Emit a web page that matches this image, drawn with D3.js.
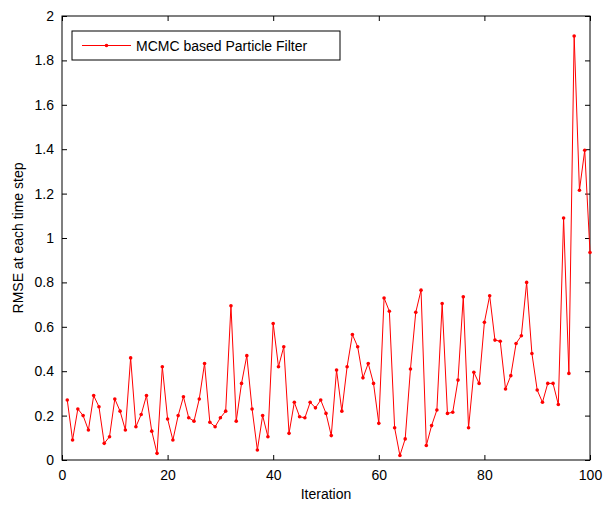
<!DOCTYPE html>
<html>
<head>
<meta charset="utf-8">
<script src="https://cdn.jsdelivr.net/npm/d3@7"></script>
<style>
  body { margin: 0; background: #fff; }
  text { font-family: "Liberation Sans", Arial, sans-serif; }
</style>
</head>
<body>
<div id="chart"></div>
<script>
// RMSE per iteration
const rmse = [
  0.27, 0.09, 0.23, 0.20, 0.135, 0.29, 0.24, 0.075, 0.105, 0.275,
  0.22, 0.135, 0.46, 0.15, 0.205, 0.29, 0.13, 0.03, 0.42, 0.185,
  0.09, 0.20, 0.285, 0.19, 0.175, 0.275, 0.435, 0.17, 0.15, 0.19,
  0.22, 0.695, 0.175, 0.345, 0.47, 0.23, 0.045, 0.20, 0.105, 0.615,
  0.42, 0.51, 0.12, 0.26, 0.195, 0.19, 0.26, 0.235, 0.27, 0.21,
  0.11, 0.405, 0.22, 0.42, 0.565, 0.51, 0.37, 0.435, 0.345, 0.165,
  0.73, 0.67, 0.145, 0.02, 0.095, 0.41, 0.665, 0.765, 0.065, 0.155,
  0.225, 0.705, 0.21, 0.215, 0.36, 0.735, 0.145, 0.395, 0.345, 0.62,
  0.74, 0.54, 0.535, 0.32, 0.38, 0.525, 0.56, 0.80, 0.48, 0.315,
  0.26, 0.345, 0.345, 0.25, 1.09, 0.39, 1.91, 1.215, 1.395, 0.935
];
const iterations = rmse.map((d, i) => i + 1);
const xTicks = [0, 20, 40, 60, 80, 100];
const yTicks = [0, 0.2, 0.4, 0.6, 0.8, 1, 1.2, 1.4, 1.6, 1.8, 2];
const seriesName = "MCMC based Particle Filter";

const size = { width: 603, height: 506 };
const margin = { left: 62, right: 13, top: 16, bottom: 46 };
const w = size.width - margin.left - margin.right;
const h = size.height - margin.top - margin.bottom;

const svg = d3.select("#chart")
  .append("svg")
  .attr("width", size.width)
  .attr("height", size.height);

const g = svg.append("g")
  .attr("transform", `translate(${margin.left},${margin.top})`);

const x = d3.scaleLinear().domain([0, 100]).range([0, w]);
const y = d3.scaleLinear().domain([0, 2]).range([h, 0]);

// axes, ticks pointing inward
const fmt = (d) => String(+d.toFixed(1));
const axisStyle = (sel) => {
  sel.select(".domain").remove();
  sel.selectAll("line").attr("stroke", "#000");
  sel.selectAll("text").attr("font-size", 14).attr("fill", "#000");
};

g.append("g")
  .attr("transform", `translate(0,${h})`)
  .call(d3.axisBottom(x).tickValues(xTicks).tickSize(-5).tickPadding(10).tickFormat(fmt))
  .call(axisStyle);
g.append("g")
  .call(d3.axisTop(x).tickValues(xTicks).tickSize(-5).tickFormat(""))
  .call(axisStyle);
g.append("g")
  .call(d3.axisLeft(y).tickValues(yTicks).tickSize(-5).tickPadding(8).tickFormat(fmt))
  .call(axisStyle);
g.append("g")
  .attr("transform", `translate(${w},0)`)
  .call(d3.axisRight(y).tickValues(yTicks).tickSize(-5).tickFormat(""))
  .call(axisStyle);

// box
g.append("rect")
  .attr("width", w)
  .attr("height", h)
  .attr("fill", "none")
  .attr("stroke", "#000")
  .attr("stroke-width", 1);

// line + markers
const line = d3.line()
  .x((d, i) => x(iterations[i]))
  .y((d) => y(d));

g.append("path")
  .datum(rmse)
  .attr("d", line)
  .attr("fill", "none")
  .attr("stroke", "#ff0000")
  .attr("stroke-width", 1);

g.selectAll("circle.pt")
  .data(rmse)
  .join("circle")
  .attr("class", "pt")
  .attr("cx", (d, i) => x(iterations[i]))
  .attr("cy", (d) => y(d))
  .attr("r", 1.8)
  .attr("fill", "#ff0000");

// axis labels
svg.append("text")
  .attr("x", margin.left + w / 2)
  .attr("y", 499)
  .attr("text-anchor", "middle")
  .attr("font-size", 14)
  .text("Iteration");

svg.append("text")
  .attr("transform", `translate(23,${margin.top + h / 2}) rotate(-90)`)
  .attr("text-anchor", "middle")
  .attr("font-size", 14)
  .text("RMSE at each time step");

// legend
const legend = g.append("g").attr("transform", "translate(10,15)");
legend.append("rect")
  .attr("width", 268)
  .attr("height", 29)
  .attr("fill", "#fff")
  .attr("stroke", "#000");
legend.append("line")
  .attr("x1", 10).attr("x2", 59)
  .attr("y1", 14.5).attr("y2", 14.5)
  .attr("stroke", "#ff0000");
legend.append("circle")
  .attr("cx", 34.5).attr("cy", 14.5).attr("r", 1.8)
  .attr("fill", "#ff0000");
legend.append("text")
  .attr("x", 64)
  .attr("y", 19.5)
  .attr("font-size", 14)
  .text(seriesName);
</script>
</body>
</html>
